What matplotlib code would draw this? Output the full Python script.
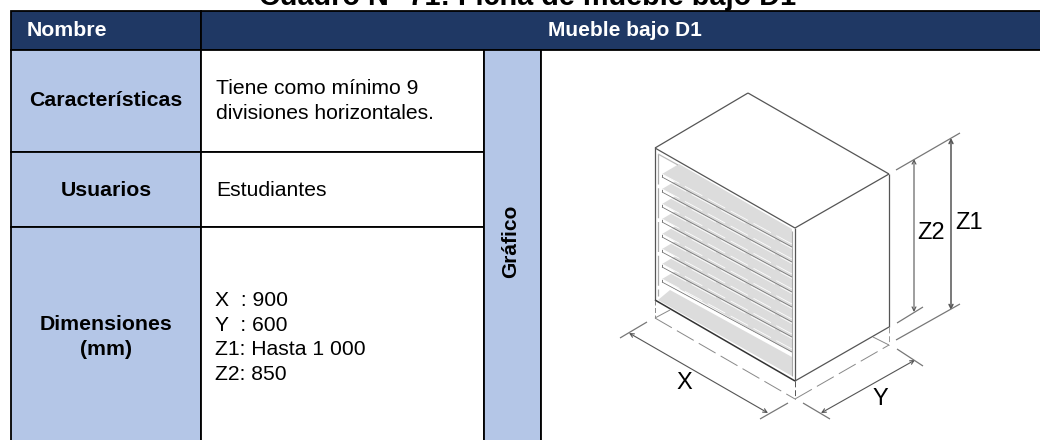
import matplotlib
matplotlib.use('Agg')
import matplotlib.pyplot as plt
from matplotlib.patches import Rectangle, Polygon

plt.rcParams['font.family'] = ['Liberation Sans', 'DejaVu Sans']

TITLE = 'Cuadro N° 71: Ficha de mueble bajo D1'
HEADER = ['Nombre', 'Mueble bajo D1']
ROW_LABELS = ['Características', 'Usuarios', 'Dimensiones\n(mm)']
ROW_TEXTS = ['Tiene como mínimo 9\ndivisiones horizontales.', 'Estudiantes', 'X  : 900\nY  : 600\nZ1: Hasta 1 000\nZ2: 850']
SIDE = 'Gráfico'
DIM_LABELS = ['X', 'Y', 'Z2', 'Z1']
SHELVES = 8

NAVY = '#1F3864'
BLUE = '#B4C6E7'
W, H = 1040, 440
fig = plt.figure(figsize=(W/100, H/100), dpi=100)
ax = fig.add_axes([0, 0, 1, 1])
ax.set_xlim(0, W); ax.set_ylim(H, 0); ax.axis('off')

xL, x1, x2, x3, xR = 11, 201, 484, 541, 1044
yT, y1, y2, y3, yB = 11, 50, 152, 227, 444
def cell(x0, y0, x1_, y1_, c):
    ax.add_patch(Rectangle((x0, y0), x1_-x0, y1_-y0, fc=c, ec='black', lw=1.3, zorder=2))
cell(xL, yT, x1, y1, NAVY); cell(x1, yT, xR, y1, NAVY)
cell(xL, y1, x1, y2, BLUE); cell(xL, y2, x1, y3, BLUE); cell(xL, y3, x1, yB, BLUE)
cell(x1, y1, x2, y2, 'white'); cell(x1, y2, x2, y3, 'white'); cell(x1, y3, x2, yB, 'white')
cell(x2, y1, x3, yB, BLUE); cell(x3, y1, xR, yB, 'white')

T = dict(zorder=5, color='black')
ax.text(528, 5, TITLE, ha='center', va='baseline', fontsize=20.8, fontweight='bold', **T)
ax.text(26.5, 30, HEADER[0], ha='left', va='center', fontsize=15.3, fontweight='bold', color='white', zorder=5)
ax.text(625, 30, HEADER[1], ha='center', va='center', fontsize=15, fontweight='bold', color='white', zorder=5)
ax.text(105.5, 101, ROW_LABELS[0], ha='center', va='center', fontsize=15.3, fontweight='bold', **T)
ax.text(106, 190, ROW_LABELS[1], ha='center', va='center', fontsize=15.3, fontweight='bold', **T)
ax.text(106, 337, ROW_LABELS[2], ha='center', va='center', fontsize=15.3, fontweight='bold', linespacing=1.35, **T)
ax.text(216, 101, ROW_TEXTS[0], ha='left', va='center', fontsize=15.2, linespacing=1.36, **T)
ax.text(216, 190, ROW_TEXTS[1], ha='left', va='center', fontsize=15.2, **T)
ax.text(215, 337.5, ROW_TEXTS[2], ha='left', va='center', fontsize=15.2, linespacing=1.36, **T)
ax.text(511, 241, SIDE, ha='center', va='center', rotation=90, fontsize=15, fontweight='bold', **T)

A, Bc, Cf, Dr = (748, 93), (655, 148), (795, 228), (889, 174)
Bb, Cb, Db = (655, 300), (795, 381), (889, 327)
G = '#555555'
def ln(p, q, c=G, lw=0.9, ls='-', z=4):
    ax.plot([p[0], q[0]], [p[1], q[1]], color=c, lw=lw, ls=ls, zorder=z, solid_capstyle='butt')

# shelves
for i in range(SHELVES):
    y_a = 174 + i * 15.0
    poly = [(662, y_a), (679, y_a - 10), (792, y_a + 55), (792, y_a + 74)]
    ax.add_patch(Polygon(poly, closed=True, fc='#DCDCDC', ec='none', zorder=3))
    ln((662, y_a), (662, y_a + 3), '#777777', 0.7)
    ln((662, y_a + 3), (792, y_a + 73), '#777777', 0.6)
    ln((662, y_a), (792, y_a + 70), 'white', 0.55, (0, (26, 8)), z=4.1)
    ln((662, y_a + 4.5), (792, y_a + 74.5), 'white', 0.55, (0, (36, 8)), z=4.1)
ax.add_patch(Polygon([(658, 300), (670, 290), (792, 357), (792, 376)], closed=True, fc='#DCDCDC', ec='none', zorder=3))
# inner frame
ln((658, 154), (658, 296), '#AAAAAA', 0.9, (0, (24, 3)))
ln((658, 154), (678, 165), '#BBBBBB', 0.9)
ln((792, 231), (792, 376), '#AAAAAA', 0.8)

for p, q in [(Bc, A), (A, Dr), (Bc, Cf), (Cf, Dr), (Bc, Bb), (Cf, Cb), (Dr, Db), (Cb, Db)]:
    ln(p, q)
ln(Bb, Cb, '#333333', 1.1)

# dashed footprint
dash = (0, (20, 6))
ln((655, 300), (655, 318), '#777777', 0.6, (0, (6, 3)))
ln((655, 318), (795, 399), '#888888', 0.7, dash)
ln((795, 399), (889, 345), '#888888', 0.7, dash)
ln((795, 381), (795, 399), '#555555', 0.7, (0, (6, 3)))
ln((889, 327), (889, 345), '#999999', 0.7, (0, (6, 3)))
ln((655, 318), (670, 310), '#888888', 0.7)
ln((873, 337), (889, 345), '#888888', 0.7)

# dimension lines
def arrow(p, q, lw=0.8):
    ax.annotate('', xy=q, xytext=p, arrowprops=dict(arrowstyle='<->', color='#555555', lw=lw, mutation_scale=7,
                shrinkA=0, shrinkB=0), zorder=4)
arrow((629, 333), (768, 413))
ln((620, 338), (647, 322), '#777777'); ln((760, 419), (788, 403), '#777777')
arrow((821, 413), (915, 360))
ln((803, 403), (830, 419), '#777777'); ln((897, 349), (923, 366), '#777777')
arrow((914, 159), (914, 312))
ln((896, 170), (960, 133), '#777777'); ln((897, 323), (923, 307), '#777777')
arrow((951, 138), (951, 310), 1.1)
ln((896, 340), (960, 304), '#777777')

ax.text(684, 383, DIM_LABELS[0], ha='center', va='center', fontsize=17, **T)
ax.text(880, 399, DIM_LABELS[1], ha='center', va='center', fontsize=17, **T)
ax.text(931, 233, DIM_LABELS[2], ha='center', va='center', fontsize=17, **T)
ax.text(969, 223, DIM_LABELS[3], ha='center', va='center', fontsize=17, **T)

fig.savefig('out.png', dpi=100)
